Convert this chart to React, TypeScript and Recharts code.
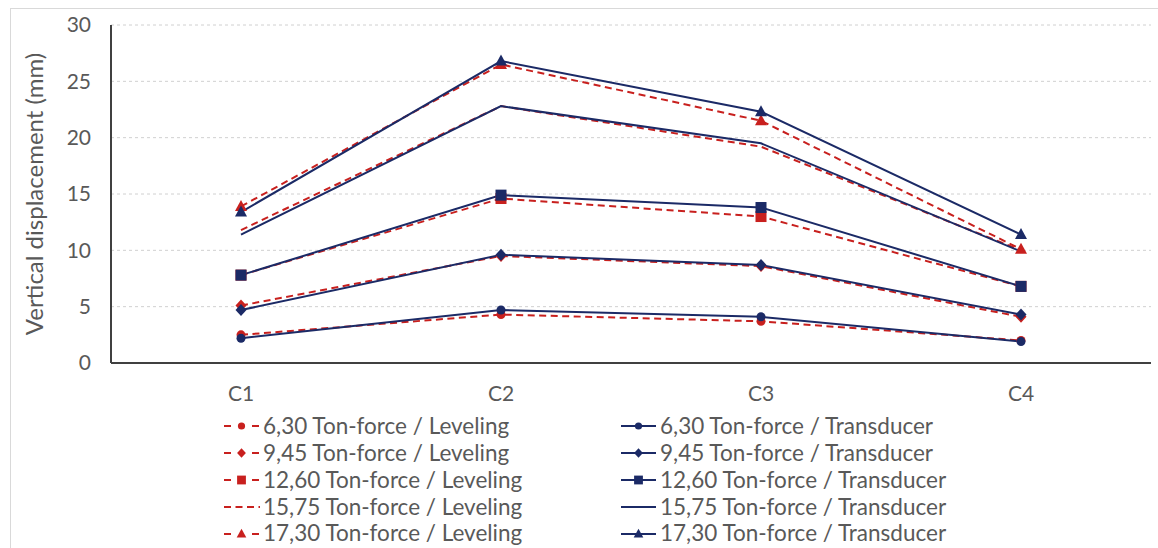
import React from 'react';
import { LineChart, Line, XAxis, YAxis, CartesianGrid, Label } from 'recharts';

const categories = ['C1', 'C2', 'C3', 'C4'];
const loads = ['6,30', '9,45', '12,60', '15,75', '17,30'];
const markers = ['circle', 'diamond', 'square', 'none', 'triangle'];

// leveling readings, one row per load
const levelingValues = [
  [2.5, 4.3, 3.7, 2.0],
  [5.1, 9.5, 8.6, 4.1],
  [7.8, 14.6, 13.0, 6.8],
  [11.8, 22.8, 19.2, 10.0],
  [13.9, 26.5, 21.5, 10.1],
];

// transducer readings, one row per load
const transducerValues = [
  [2.2, 4.7, 4.1, 1.9],
  [4.7, 9.6, 8.7, 4.3],
  [7.8, 14.9, 13.8, 6.8],
  [11.4, 22.8, 19.5, 9.9],
  [13.4, 26.8, 22.3, 11.4],
];

const yTicks = [0, 5, 10, 15, 20, 25, 30];

const RED = '#c8201e';
const BLUE = '#1b2a66';
const FONT = 'Lato, "Open Sans", sans-serif';
const TEXT = '#595959';

const data = categories.map((cat, i) => {
  const row: Record<string, string | number> = { cat };
  loads.forEach((_, s) => {
    row[`lev${s}`] = levelingValues[s][i];
    row[`tr${s}`] = transducerValues[s][i];
  });
  return row;
});

function Marker({ cx, cy, shape, color }: { cx: number; cy: number; shape: string; color: string }) {
  if (cx == null || cy == null) return null;
  if (shape === 'circle') return <circle cx={cx} cy={cy} r={4.5} fill={color} />;
  if (shape === 'diamond')
    return <polygon points={`${cx},${cy - 6} ${cx + 5.5},${cy} ${cx},${cy + 6} ${cx - 5.5},${cy}`} fill={color} />;
  if (shape === 'square') return <rect x={cx - 5.5} y={cy - 5.5} width={11} height={11} fill={color} />;
  if (shape === 'triangle')
    return <polygon points={`${cx},${cy - 6.5} ${cx + 6},${cy + 4.5} ${cx - 6},${cy + 4.5}`} fill={color} />;
  return null;
}

function renderDot(shape: string, color: string) {
  if (shape === 'none') return false;
  return (props: any) => (
    <Marker key={`${props.dataKey}-${props.index}`} cx={props.cx} cy={props.cy} shape={shape} color={color} />
  );
}

function LegendSymbol({ shape, color, dashed }: { shape: string; color: string; dashed: boolean }) {
  return (
    <svg width={38} height={14} style={{ display: 'block', flex: 'none' }}>
      {dashed ? (
        shape === 'none' ? (
          <line x1={1} y1={7} x2={37} y2={7} stroke={color} strokeWidth={2} strokeDasharray="7 4.5" />
        ) : (
          <>
            <line x1={1} y1={7} x2={8} y2={7} stroke={color} strokeWidth={2} />
            <line x1={29} y1={7} x2={36} y2={7} stroke={color} strokeWidth={2} />
          </>
        )
      ) : (
        <line x1={1} y1={7} x2={36} y2={7} stroke={color} strokeWidth={2} />
      )}
      <g transform="translate(18.5,7) scale(0.8) translate(-18.5,-7)">
        <Marker cx={18.5} cy={7} shape={shape} color={color} />
      </g>
    </svg>
  );
}

function LegendColumn({ kind }: { kind: 'lev' | 'tr' }) {
  const color = kind === 'lev' ? RED : BLUE;
  const name = kind === 'lev' ? 'Leveling' : 'Transducer';
  return (
    <div>
      {loads.map((load, s) => (
        <div key={load} style={{ display: 'flex', alignItems: 'center', height: 26.8, whiteSpace: 'nowrap' }}>
          <LegendSymbol shape={markers[s]} color={color} dashed={kind === 'lev'} />
          <span style={{ marginLeft: 2 }}>{`${load} Ton-force / ${name}`}</span>
        </div>
      ))}
    </div>
  );
}

export default function App() {
  return (
    <div
      style={{
        position: 'absolute',
        left: 0,
        top: 0,
        width: 1158,
        height: 548,
        background: '#fff',
        fontFamily: FONT,
      }}
    >
      <div
        style={{
          position: 'absolute',
          left: 10,
          top: 8,
          width: 1160,
          height: 545,
          border: '1px solid #d9d9d9',
        }}
      />
      <LineChart
        width={1158}
        height={548}
        data={data}
        margin={{ top: 25, right: 7, bottom: 145, left: 0 }}
        style={{ position: 'absolute', left: 0, top: 0 }}
      >
        <CartesianGrid vertical={false} stroke="#d0d0d0" strokeDasharray="3 3" />
        <XAxis
          dataKey="cat"
          height={40}
          padding={{ left: 130, right: 130 }}
          tickLine={false}
          tickMargin={17}
          axisLine={{ stroke: '#404040', strokeWidth: 2 }}
          tick={{ fill: TEXT, fontSize: 21, fontFamily: FONT }}
        />
        <YAxis
          width={111}
          domain={[0, 30]}
          ticks={yTicks}
          tickLine={false}
          tickMargin={14}
          axisLine={{ stroke: '#404040', strokeWidth: 2 }}
          tick={{ fill: TEXT, fontSize: 21, fontFamily: FONT }}
        >
          <Label
            value="Vertical displacement (mm)"
            angle={-90}
            position="insideLeft"
            offset={34}
            style={{ textAnchor: 'middle', fill: TEXT, fontSize: 24, fontFamily: FONT }}
          />
        </YAxis>
        {loads.map((load, s) => (
          <Line
            key={`lev${s}`}
            dataKey={`lev${s}`}
            name={`${load} Ton-force / Leveling`}
            type="linear"
            stroke={RED}
            strokeWidth={2}
            strokeDasharray="7 4.5"
            dot={renderDot(markers[s], RED)}
            activeDot={false}
            isAnimationActive={false}
          />
        ))}
        {loads.map((load, s) => (
          <Line
            key={`tr${s}`}
            dataKey={`tr${s}`}
            name={`${load} Ton-force / Transducer`}
            type="linear"
            stroke={BLUE}
            strokeWidth={2}
            dot={renderDot(markers[s], BLUE)}
            activeDot={false}
            isAnimationActive={false}
          />
        ))}
      </LineChart>
      <div
        style={{
          position: 'absolute',
          left: 223,
          top: 413,
          display: 'flex',
          color: TEXT,
          fontSize: 22.5,
          lineHeight: 1,
        }}
      >
        <div style={{ width: 397 }}>
          <LegendColumn kind="lev" />
        </div>
        <LegendColumn kind="tr" />
      </div>
    </div>
  );
}
